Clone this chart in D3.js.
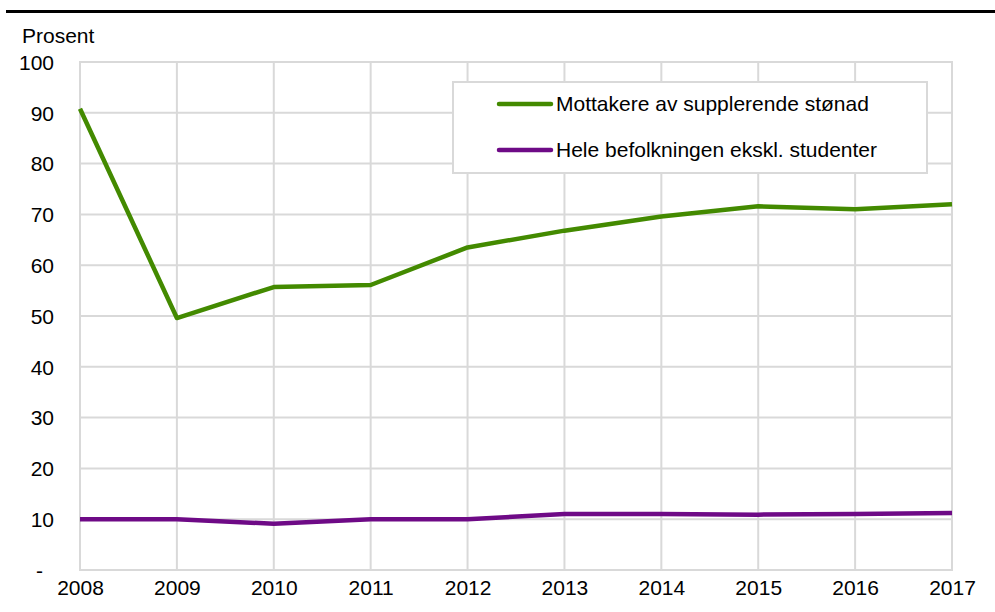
<!DOCTYPE html>
<html>
<head>
<meta charset="utf-8">
<script src="https://cdn.jsdelivr.net/npm/d3@7"></script>
<style>
  body { margin: 0; background: #fff; }
  text { font-family: "Liberation Sans", Arial, sans-serif; fill: #000; }
</style>
</head>
<body>
<svg id="chart" width="995" height="612"></svg>
<script>
// data
var years = [2008, 2009, 2010, 2011, 2012, 2013, 2014, 2015, 2016, 2017];
var mottakere = [90.8, 49.6, 55.7, 56.1, 63.5, 66.8, 69.6, 71.6, 71.0, 72.0];
var heleBefolkningen = [10.0, 10.0, 9.1, 10.0, 10.0, 11.0, 11.0, 10.9, 11.0, 11.2];
var yTicks = [0, 10, 20, 30, 40, 50, 60, 70, 80, 90, 100];
var seriesNames = ["Mottakere av supplerende stønad", "Hele befolkningen ekskl. studenter"];
var seriesColors = ["#438a00", "#6e0a86"];

var svg = d3.select("#chart");

var margin = { top: 62, right: 43, bottom: 42, left: 80 };
var width = 995 - margin.left - margin.right,
    height = 612 - margin.top - margin.bottom;

var x = d3.scaleLinear()
  .domain(d3.extent(years))
  .range([margin.left, margin.left + width]);

var y = d3.scaleLinear()
  .domain([0, 100])
  .range([margin.top + height, margin.top]);

// rule at the top
svg.append("line")
  .attr("x1", 6).attr("x2", 995)
  .attr("y1", 11.5).attr("y2", 11.5)
  .attr("stroke", "#000")
  .attr("stroke-width", 3);

// grid
var grid = svg.append("g");
grid.selectAll(".hgrid")
  .data(yTicks)
  .enter().append("line")
  .attr("x1", x(years[0])).attr("x2", x(years[years.length - 1]))
  .attr("y1", function(d) { return y(d); })
  .attr("y2", function(d) { return y(d); })
  .attr("stroke", "#d9d9d9")
  .attr("stroke-width", 2);

grid.selectAll(".vgrid")
  .data(years)
  .enter().append("line")
  .attr("x1", function(d) { return x(d); })
  .attr("x2", function(d) { return x(d); })
  .attr("y1", y(0) + 1).attr("y2", y(100) - 1)
  .attr("stroke", "#d9d9d9")
  .attr("stroke-width", 2);

// y axis labels
var yAxis = d3.axisLeft(y)
  .tickValues(yTicks)
  .tickSize(0)
  .tickPadding(26)
  .tickFormat(function(d) { return d === 0 ? "-" : d; });

svg.append("g")
  .attr("transform", "translate(" + margin.left + ",0)")
  .call(yAxis)
  .call(function(g) { g.select(".domain").remove(); })
  .selectAll("text")
  .style("font-size", "21px")
  .attr("dy", "0.35em")
  .attr("dx", function(d) { return d === 0 ? "-11px" : 0; });

// x axis labels
var xAxis = d3.axisBottom(x)
  .tickValues(years)
  .tickSize(0)
  .tickPadding(10)
  .tickFormat(d3.format("d"));

svg.append("g")
  .attr("transform", "translate(0," + y(0) + ")")
  .call(xAxis)
  .call(function(g) { g.select(".domain").remove(); })
  .selectAll("text")
  .style("font-size", "21px");

svg.selectAll(".tick text").attr("fill", "#000");

// unit label
svg.append("text")
  .attr("x", 22)
  .attr("y", 43)
  .style("font-size", "21px")
  .text("Prosent");

// lines
var line = d3.line()
  .x(function(d, i) { return x(years[i]); })
  .y(function(d) { return y(d); });

[mottakere, heleBefolkningen].forEach(function(s, i) {
  svg.append("path")
    .datum(s)
    .attr("d", line)
    .attr("fill", "none")
    .attr("stroke", seriesColors[i])
    .attr("stroke-width", 4.5)
    .attr("stroke-linejoin", "round");
});

// legend
var legend = svg.append("g");
legend.append("rect")
  .attr("x", 453).attr("y", 82)
  .attr("width", 474).attr("height", 91)
  .attr("fill", "#fff")
  .attr("stroke", "#d9d9d9")
  .attr("stroke-width", 2);

seriesNames.forEach(function(name, i) {
  var ly = 104 + i * 46;
  legend.append("line")
    .attr("x1", 499).attr("x2", 551)
    .attr("y1", ly).attr("y2", ly)
    .attr("stroke", seriesColors[i])
    .attr("stroke-width", 4.5)
    .attr("stroke-linecap", "round");
  legend.append("text")
    .attr("x", 556)
    .attr("y", ly)
    .attr("dy", "0.35em")
    .style("font-size", "21px")
    .text(name);
});
</script>
</body>
</html>
